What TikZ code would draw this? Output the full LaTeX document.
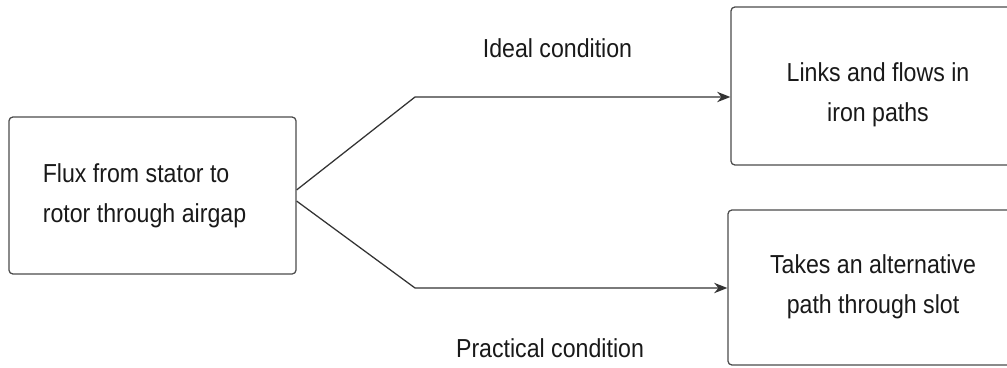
\documentclass[tikz,border=0pt]{standalone}
\usepackage{fontspec}
\setmainfont{Liberation Sans}[FakeStretch=0.89]
\usetikzlibrary{arrows.meta}

\tikzset{
  box/.style={draw=black!70, line width=0.9pt, rounded corners=1mm},
  txt/.style={text=black!90, inner sep=0pt},
  lbl/.style={text=black!90, anchor=base, inner sep=0pt},
  link/.style={draw=black!80, line width=0.9pt},
}

\begin{document}
\begin{tikzpicture}[x=0.025cm,y=-0.025cm,font=\fontsize{18.5pt}{28.4pt}\selectfont]
\useasboundingbox (0,0) rectangle (1007,368);
\node[box, minimum width=7.175cm, minimum height=3.925cm] (flux) at (152.5,195.5) {};
\node[box, minimum width=7.35cm, minimum height=3.95cm] (iron) at (878,86) {};
\node[box, minimum width=7.25cm, minimum height=3.875cm] (slot) at (873,287.5) {};
\node[txt, align=left] (fluxtext) at (144.5,196) {Flux from stator to\\rotor through airgap};
\node[txt, align=center] (irontext) at (878,94.5) {Links and flows in\\iron paths};
\node[txt, align=center] (slottext) at (873,287) {Takes an alternative\\path through slot};
\coordinate (up) at (415,97);
\coordinate (down) at (415,288);
\draw[link,-{Stealth[length=3.3mm,width=2.6mm]}] ([yshift=0.14cm]flux.east) -- (up) -- (iron.west |- up);
\draw[link,-{Stealth[length=3.3mm,width=2.6mm]}] ([yshift=-0.14cm]flux.east) -- (down) -- (slot.west |- down);
\node[lbl] (ideal) at (557.5,57) {Ideal condition};
\node[lbl] (practical) at (550,357) {Practical condition};
\end{tikzpicture}
\end{document}
